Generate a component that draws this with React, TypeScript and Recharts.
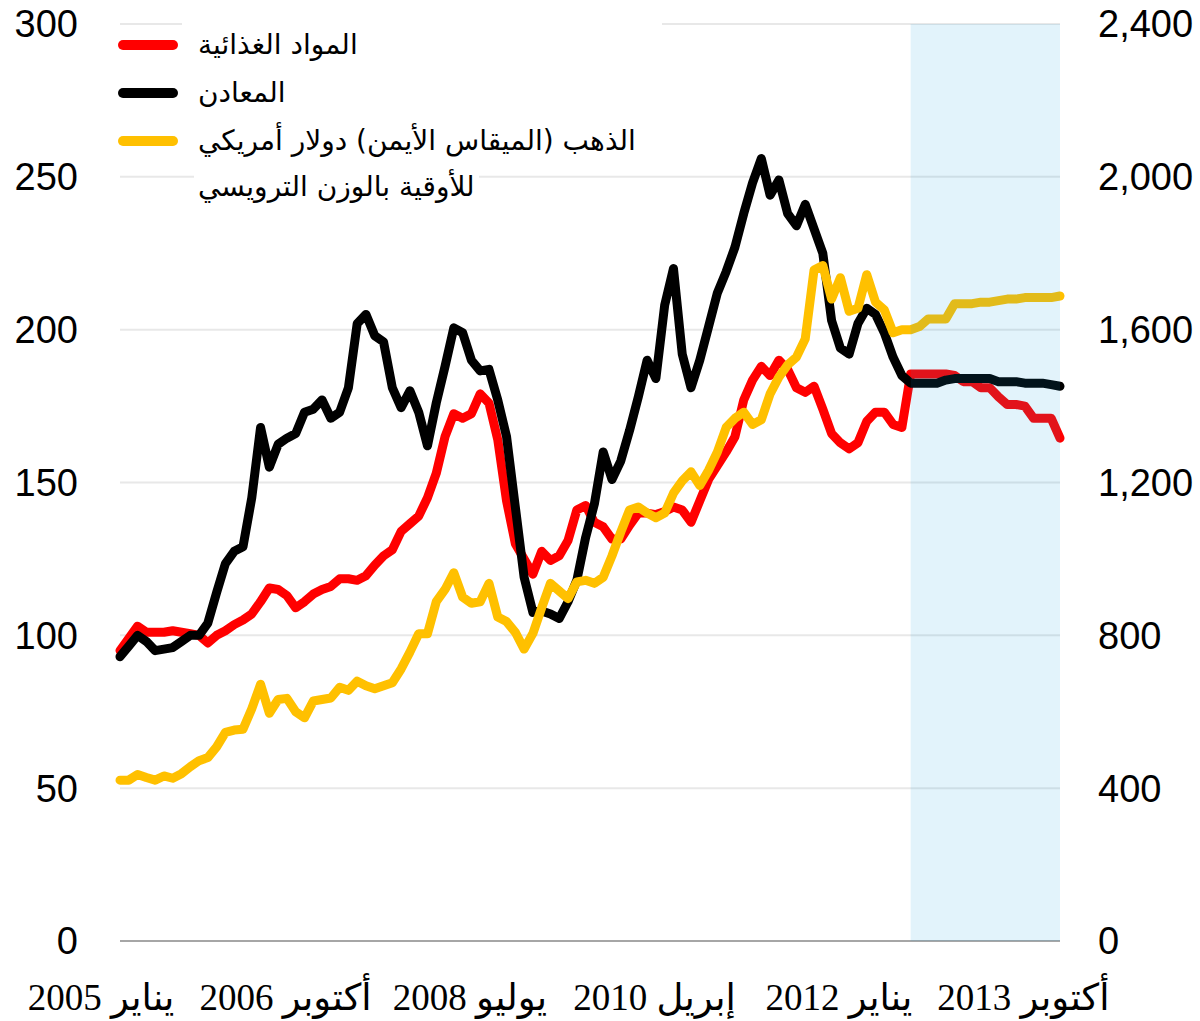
import React from "react";
import { LineChart, Line, XAxis, YAxis, CartesianGrid, ReferenceArea, Legend } from "recharts";

// monthly, Jan 2005 - Dec 2013
const monthNames = ["يناير", "فبراير", "مارس", "إبريل", "مايو", "يونيو", "يوليو", "أغسطس", "سبتمبر", "أكتوبر", "نوفمبر", "ديسمبر"];
const years = [2005, 2006, 2007, 2008, 2009, 2010, 2011, 2012, 2013];
const months = years.flatMap((y) => monthNames.map((m) => `${m} ${y}`));

// index, 2005 = 100 (left axis)
const food = [
  95, 99, 103, 101, 101, 101, 101.5, 101, 100.5, 100,
  97.5, 100, 101.5, 103.5, 105, 107, 111, 115.5, 115, 113,
  109, 111, 113.5, 115, 116, 118.5, 118.5, 118, 119.5, 123,
  126, 128, 134, 136.5, 139, 145, 153, 165, 172.5, 171,
  172.5, 179, 176, 164, 144, 130, 125, 120, 127.5, 124.5,
  126, 131, 141, 142.5, 137, 135.5, 131.5, 131.5, 136, 140,
  140, 139.5, 140.5, 142, 141, 137, 144, 151, 155.5, 160,
  165, 177, 183.5, 188, 185, 190, 187, 181, 179.5, 181.5,
  174, 166, 163, 161, 163, 170, 173, 173, 169, 168,
  185.5, 185.5, 185.5, 185.5, 185.5, 185, 183, 183, 181, 181,
  178, 175.5, 175.5, 175, 171, 171, 171, 164.5,
];

const metals = [
  93, 96.5, 100, 98, 95, 95.5, 96, 98, 100, 100,
  104, 114, 123.5, 127.5, 129, 145, 168, 155, 162.5, 164.5,
  166, 173, 174, 177, 171, 173, 181, 202, 205, 198,
  196, 181, 174.5, 180, 173, 162, 176, 188, 200.6, 199,
  190, 186.5, 187, 177, 165, 142, 119, 107.5, 108, 107,
  105.5, 111, 118, 132, 143, 160, 151, 157, 167, 178,
  190, 184, 208, 220, 192, 181, 190, 201, 212, 219,
  227, 238, 248, 256, 244, 249, 238, 234, 241, 233,
  225, 203, 194, 192, 202, 207, 205, 199, 191, 185,
  182.5, 182.5, 182.5, 182.5, 183.5, 184, 184, 184, 184, 184,
  183, 183, 183, 182.5, 182.5, 182.5, 182, 181.5,
];

// US$ per troy ounce (right axis)
const gold = [
  421, 421, 436, 428, 421, 432, 426, 438, 456, 472,
  480, 508, 546, 552, 554, 608, 672, 596, 632, 635,
  600, 584, 628, 632, 636, 664, 656, 680, 668, 660,
  668, 676, 712, 756, 804, 804, 888, 920, 964, 900,
  884, 888, 936, 848, 836, 808, 764, 805, 872, 936,
  916, 896, 940, 944, 936, 952, 1008, 1070, 1128, 1136,
  1120, 1108, 1120, 1172, 1204, 1228, 1192, 1232, 1280, 1344,
  1368, 1384, 1352, 1364, 1432, 1476, 1508, 1528, 1576, 1756,
  1768, 1680, 1736, 1648, 1656, 1744, 1672, 1652, 1592, 1600,
  1600, 1608, 1628, 1628, 1628, 1668, 1668, 1668, 1672, 1672,
  1676, 1680, 1680, 1684, 1684, 1684, 1684, 1688,
];

const leftTicks = [0, 50, 100, 150, 200, 250, 300];
const rightTicks = [0, 400, 800, 1200, 1600, 2000, 2400];
const projectionStart = "يوليو 2012";
const legendOrder = ["food", "metals", "gold"];

const data = months.map((m, i) => ({ month: m, food: food[i], metals: metals[i], gold: gold[i] }));

const XTick = (props: any) => {
  const { x, y, payload } = props;
  return (
    <text
      x={x - 19}
      y={y + 69}
      textAnchor="middle"
      direction="rtl"
      style={{ direction: "rtl", unicodeBidi: "embed" }}
      fontFamily="'Liberation Serif', 'DejaVu Sans', serif"
      fontSize={37}
      fill="#000"
    >
      {payload.value}
    </text>
  );
};

const renderLegend = (props: any) => {
  const payload = [...(props.payload || [])].sort(
    (a: any, b: any) => legendOrder.indexOf(a.dataKey) - legendOrder.indexOf(b.dataKey)
  );
  return (
    <div style={{ position: "relative", width: 700, height: 210 }}>
      <div style={{ position: "absolute", left: 182, top: 14, width: 480, height: 150, background: "#fff" }} />
      {payload.map((entry: any, i: number) => {
        const lines = String(entry.value).split("\n");
        const cy = 45 + i * 48;
        return (
          <React.Fragment key={i}>
            <div
              style={{
                position: "absolute",
                left: 118,
                top: cy - 5,
                width: 60,
                height: 10,
                borderRadius: 5,
                background: entry.color,
              }}
            />
            {lines.map((t, j) => (
              <div
                key={j}
                style={{
                  position: "absolute",
                  left: 194,
                  top: cy - 23 + j * 46,
                  height: 46,
                  lineHeight: "46px",
                  padding: "0 4px",
                  background: "#fff",
                  direction: "rtl",
                  whiteSpace: "nowrap",
                  fontFamily: "'DejaVu Sans', sans-serif",
                  fontSize: 28,
                  color: "#000",
                }}
              >
                {t}
              </div>
            ))}
          </React.Fragment>
        );
      })}
    </div>
  );
};

export default function App() {
  return (
    <div style={{ position: "absolute", left: 0, top: 0 }}>
      <LineChart width={1200} height={1021} data={data} margin={{ top: 24, right: 0, bottom: 0, left: 0 }}>
        <CartesianGrid vertical={false} stroke="#e8e8e8" strokeWidth={2} yAxisId="left" />
        <XAxis
          dataKey="month"
          interval={20}
          tick={<XTick />}
          tickLine={false}
          tickSize={0}
          tickMargin={0}
          height={80}
          axisLine={{ stroke: "#a6a6a6", strokeWidth: 2 }}
        />
        <YAxis
          yAxisId="left"
          domain={[0, 300]}
          ticks={leftTicks}
          width={120}
          axisLine={false}
          tickLine={false}
          tickSize={0}
          tickMargin={42}
          tick={{ fill: "#000", fontSize: 38, fontFamily: "'Liberation Sans', Arial, sans-serif" }}
        />
        <YAxis
          yAxisId="right"
          orientation="right"
          domain={[0, 2400]}
          ticks={rightTicks}
          width={140}
          axisLine={false}
          tickLine={false}
          tickSize={0}
          tickMargin={38}
          tickFormatter={(v: number) => v.toLocaleString("en-US")}
          tick={{ fill: "#000", fontSize: 38, fontFamily: "'Liberation Sans', Arial, sans-serif", textAnchor: "start" }}
        />
        <Legend
          layout="vertical"
          verticalAlign="middle"
          align="center"
          itemSorter={null as any}
          content={renderLegend}
          wrapperStyle={{ left: 0, top: 0, width: 700, height: 210 }}
        />
        <Line
          yAxisId="left"
          type="linear"
          dataKey="food"
          name="المواد الغذائية"
          stroke="#ff0000"
          strokeWidth={9}
          strokeLinejoin="round"
          strokeLinecap="round"
          dot={false}
          isAnimationActive={false}
        />
        <Line
          yAxisId="left"
          type="linear"
          dataKey="metals"
          name="المعادن"
          stroke="#000000"
          strokeWidth={9}
          strokeLinejoin="round"
          strokeLinecap="round"
          dot={false}
          isAnimationActive={false}
        />
        <Line
          yAxisId="right"
          type="linear"
          dataKey="gold"
          name={"الذهب (الميقاس الأيمن) دولار أمريكي\nللأوقية بالوزن الترويسي"}
          stroke="#ffc000"
          strokeWidth={9}
          strokeLinejoin="round"
          strokeLinecap="round"
          dot={false}
          isAnimationActive={false}
        />
        <ReferenceArea
          yAxisId="left"
          x1={projectionStart}
          x2={months[months.length - 1]}
          y1={0}
          y2={300}
          fill="#149ddb"
          fillOpacity={0.12}
          stroke="none"
          ifOverflow="visible"
          zIndex={1000}
        />
      </LineChart>
    </div>
  );
}
